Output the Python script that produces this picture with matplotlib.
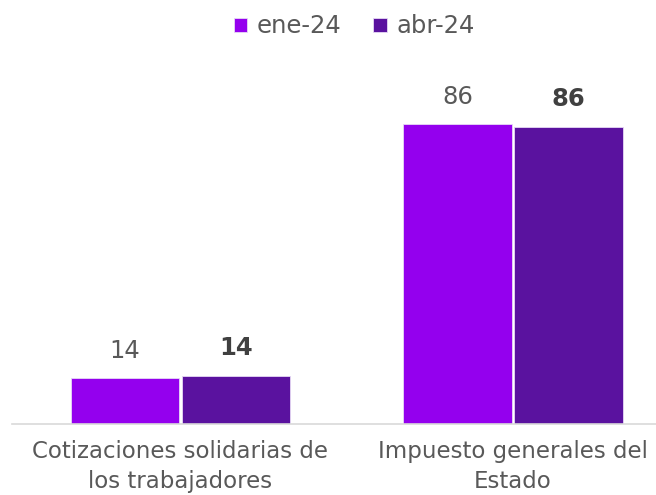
import matplotlib.pyplot as plt
import numpy as np

categories = ['Cotizaciones solidarias de\nlos trabajadores',
              'Impuesto generales del\nEstado']
series = ['ene-24', 'abr-24']
ene_24 = [13.3, 86.7]
abr_24 = [14.0, 86.0]
ene_labels = ['14', '86']
abr_labels = ['14', '86']

colors = ['#9400EE', '#5A129F']
text_gray = '#595959'

plt.rcParams['font.family'] = ['DejaVu Sans']

fig = plt.figure(figsize=(6.56, 4.95), dpi=100)
ax = fig.add_axes([0.018, 0.1428, 0.982, 0.699])

x = np.arange(len(categories))
w = 0.326
gap = 0.0035
b1 = ax.bar(x - w / 2 - gap, ene_24, w, color=colors[0], edgecolor='#e6d9f5',
            linewidth=0.6, label=series[0])
b2 = ax.bar(x + w / 2 + gap, abr_24, w, color=colors[1], edgecolor='#e6d9f5',
            linewidth=0.6, label=series[1])

for rect, lab in zip(b1, ene_labels):
    ax.annotate(lab, (rect.get_x() + rect.get_width() / 2, rect.get_height()),
                xytext=(0, 20), textcoords='offset points', ha='center',
                va='center', fontsize=17.5, color=text_gray, clip_on=False)
for rect, lab in zip(b2, abr_labels):
    ax.annotate(lab, (rect.get_x() + rect.get_width() / 2, rect.get_height()),
                xytext=(0, 20), textcoords='offset points', ha='center',
                va='center', fontsize=17.5, color='#404040', fontweight='bold',
                clip_on=False)

ax.set_xlim(-0.507, 1.43)
ax.set_ylim(0, 100)
ax.set_xticks(x)
ax.set_xticklabels(categories, fontsize=16.5, color=text_gray, linespacing=1.4)
ax.tick_params(axis='x', length=0, pad=11)
ax.set_yticks([])
for s in ['top', 'right', 'left']:
    ax.spines[s].set_visible(False)
ax.spines['bottom'].set_color('#d9d9d9')
ax.spines['bottom'].set_linewidth(1.2)

leg = fig.legend(loc='upper center', bbox_to_anchor=(0.54, 1.015), ncol=2,
                 frameon=False, fontsize=17.5, handlelength=0.55,
                 handleheight=0.55, handletextpad=0.4, columnspacing=1.3,
                 labelcolor=text_gray)

fig.savefig('out.png', dpi=100)
